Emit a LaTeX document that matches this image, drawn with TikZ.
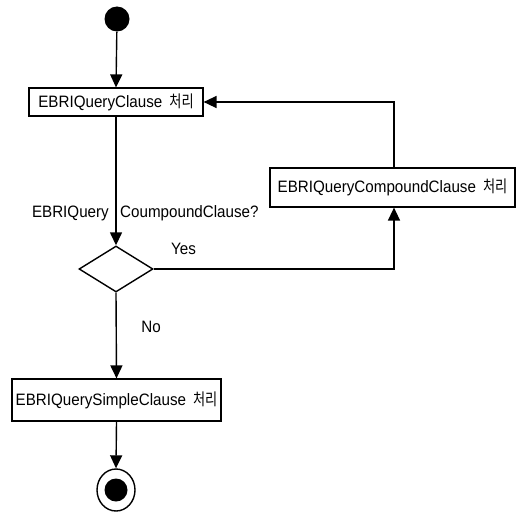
\documentclass[tikz,border=0pt]{standalone}
\usepackage{fontspec}
\setmainfont{Liberation Sans}[FakeStretch=0.92]
\newfontfamily\kr{Noto Sans CJK KR}[FakeStretch=0.8]
\usetikzlibrary{arrows.meta,shapes.geometric}

\newcommand{\proc}{{\kr\fontsize{16.5pt}{18pt}\selectfont 처리}}

\tikzset{
  flow/.style={line width=1.4pt, draw=black},
  arr/.style={flow, -{Triangle[length=13pt,width=12pt]}},
  actbox/.style={draw=black, line width=1.2pt, fill=white, inner sep=0pt,
    font=\fontsize{16.5pt}{18pt}\selectfont},
  lbl/.style={inner sep=0pt, font=\fontsize{16.5pt}{18pt}\selectfont},
  decision/.style={diamond, draw=black, line width=1.4pt, inner sep=0pt,
    minimum width=74pt, minimum height=46pt, aspect=1.6},
}

\begin{document}
\begin{tikzpicture}[x=1pt, y=1pt]
  \useasboundingbox (0,0) rectangle (518,-511);

  % start and end states
  \node[circle, fill=black, minimum size=25pt, inner sep=0pt] (start) at (117,-19) {};
  \node[ellipse, draw=black, line width=1.4pt, minimum width=38pt, minimum height=42pt, inner sep=0pt] (stop) at (116,-490) {};
  \node[circle, fill=black, minimum size=23pt, inner sep=0pt] (stopdot) at (116,-490) {};

  % activities
  \node[actbox, minimum width=174pt, minimum height=28pt] (clause) at (116,-102)
    {EBRIQueryClause\hspace{7pt}\proc};
  \node[actbox, minimum width=245pt, minimum height=39pt] (compound) at (392.5,-187.5)
    {EBRIQueryCompoundClause\hspace{7pt}\proc};
  \node[actbox, minimum width=209pt, minimum height=42pt] (simple) at (116.5,-400)
    {EBRIQuerySimpleClause\hspace{7pt}\proc};

  % decision
  \node[decision] (dec) at (116,-269) {};

  % guard labels
  \coordinate (guard) at (116,-213);
  \node[lbl, anchor=east] (qleft) at (109,-213) {EBRIQuery};
  \node[lbl, anchor=west] (qright) at (120,-213) {CoumpoundClause?};
  \node[lbl] (yes) at (183.5,-249) {Yes};
  \node[lbl] (no) at (151,-327) {No};

  % connectors
  \draw[arr] (start) -- (clause.north);
  \draw[arr] (clause.south) -- (dec.north);
  \draw[arr] (dec.east) -| (compound.south -| 394,0);
  \draw[arr] (compound.north -| 394,0) |- (clause.east);
  \draw[arr] (dec.south) -- (simple.north);
  \draw[arr] (simple.south) -- (stop.north);
\end{tikzpicture}
\end{document}
